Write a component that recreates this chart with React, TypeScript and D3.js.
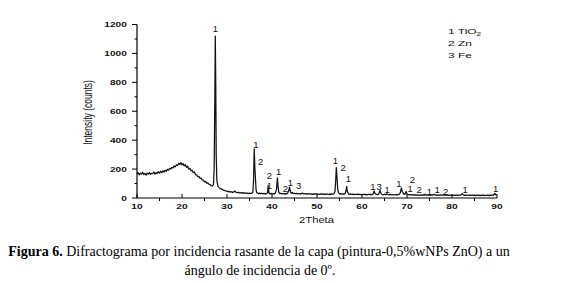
import React from "react";
import * as d3 from "d3";

// 2Theta (deg), intensity (counts)
const spectrum: [number, number][] = [
  [10.0,168],[10.25,175],[10.5,160],[10.75,172],[11.0,165],[11.25,178],[11.5,162],[11.75,170],
  [12.0,158],[12.25,172],[12.5,166],[12.75,176],[13.0,163],[13.25,171],[13.5,168],[13.75,180],
  [14.0,165],[14.25,176],[14.5,170],[14.75,182],[15.0,172],[15.25,185],[15.5,175],[15.75,188],
  [16.0,180],[16.25,192],[16.5,185],[16.75,198],[17.0,192],[17.25,205],[17.5,200],[17.75,212],
  [18.0,208],[18.25,222],[18.5,215],[18.75,230],[19.0,225],[19.25,240],[19.5,232],[19.75,245],
  [20.0,228],[20.25,238],[20.5,222],[20.75,230],[21.0,212],[21.25,220],[21.5,200],[21.75,205],
  [22.0,188],[22.25,192],[22.5,175],[22.75,180],[23.0,162],[23.25,160],[23.5,148],[23.75,150],
  [24.0,135],[24.25,138],[24.5,125],[24.75,122],[25.0,112],[25.25,115],[25.5,102],[25.75,105],
  [26.0,95],[26.25,92],[26.5,85],[26.75,82],[27.0,95],[27.15,200],[27.3,700],[27.4,1120],
  [27.5,800],[27.6,300],[27.75,120],[28.0,80],[28.25,72],[28.5,65],[28.75,62],[29.0,58],
  [29.25,55],[29.5,52],[29.75,48],[30.0,48],[30.25,42],[30.5,46],[30.75,40],[31.0,44],
  [31.25,38],[31.5,42],[31.75,48],[32.0,40],[32.25,36],[32.5,40],[32.75,35],[33.0,38],
  [33.25,33],[33.5,37],[33.75,32],[34.0,36],[34.25,31],[34.5,35],[34.75,30],[35.0,34],
  [35.25,31],[35.5,33],[35.75,40],[35.9,120],[36.05,340],[36.2,200],[36.3,150],[36.45,60],
  [36.6,38],[36.75,35],[37.0,30],[37.25,34],[37.5,29],[37.75,33],[38.0,28],[38.25,32],
  [38.5,27],[38.75,31],[39.0,35],[39.15,85],[39.3,40],[39.5,28],[39.75,32],[40.0,27],
  [40.25,31],[40.5,28],[40.75,35],[41.0,60],[41.2,140],[41.35,80],[41.5,40],[41.75,30],
  [42.0,33],[42.25,28],[42.5,31],[42.75,27],[43.0,30],[43.25,28],[43.5,35],[43.75,55],
  [43.9,75],[44.05,50],[44.25,33],[44.5,38],[44.75,30],[45.0,33],[45.25,29],[45.5,32],
  [45.75,28],[46.0,31],[46.25,27],[46.5,30],[46.75,34],[47.0,28],[47.25,31],[47.5,26],
  [47.75,30],[48.0,27],[48.25,31],[48.5,26],[48.75,29],[49.0,25],[49.25,29],[49.5,26],
  [49.75,30],[50.0,25],[50.25,28],[50.5,24],[50.75,28],[51.0,25],[51.25,29],[51.5,24],
  [51.75,27],[52.0,25],[52.25,28],[52.5,24],[52.75,27],[53.0,25],[53.25,28],[53.5,26],
  [53.75,30],[54.0,45],[54.15,120],[54.3,210],[54.45,140],[54.6,60],[54.8,35],[55.0,28],
  [55.25,30],[55.5,26],[55.75,29],[56.0,27],[56.25,30],[56.45,50],[56.6,80],[56.75,45],
  [57.0,27],[57.25,25],[57.5,28],[57.75,24],[58.0,27],[58.25,23],[58.5,26],[58.75,24],
  [59.0,27],[59.25,23],[59.5,26],[59.75,22],[60.0,25],[60.25,23],[60.5,26],[60.75,22],
  [61.0,25],[61.25,22],[61.5,26],[61.75,23],[62.0,25],[62.25,23],[62.5,30],[62.7,48],
  [62.9,30],[63.25,25],[63.5,23],[63.75,30],[64.0,52],[64.2,32],[64.5,24],[64.75,22],
  [65.0,26],[65.25,22],[65.5,30],[65.75,24],[66.0,22],[66.25,25],[66.5,21],[66.75,24],
  [67.0,21],[67.25,24],[67.5,21],[67.75,23],[68.0,22],[68.25,26],[68.5,35],[68.75,70],
  [68.95,45],[69.15,35],[69.35,25],[69.6,30],[69.8,45],[70.0,28],[70.25,22],[70.5,24],
  [70.75,21],[71.0,23],[71.25,20],[71.5,23],[71.75,20],[72.0,22],[72.25,19],[72.5,22],
  [72.75,19],[73.0,21],[73.25,19],[73.5,22],[73.75,19],[74.0,26],[74.25,20],[74.5,22],
  [74.75,19],[75.0,21],[75.25,19],[75.5,22],[75.75,20],[76.0,27],[76.25,20],[76.5,22],
  [76.75,19],[77.0,22],[77.25,19],[77.5,21],[77.75,19],[78.0,21],[78.25,19],[78.5,22],
  [78.75,19],[79.0,21],[79.25,18],[79.5,21],[79.75,18],[80.0,21],[80.25,18],[80.5,20],
  [80.75,18],[81.0,21],[81.25,18],[81.5,20],[81.75,19],[82.0,22],[82.25,30],[82.5,22],
  [82.75,18],[83.0,20],[83.25,18],[83.5,21],[83.75,18],[84.0,20],[84.25,18],[84.5,21],
  [84.75,18],[85.0,20],[85.25,17],[85.5,20],[85.75,18],[86.0,20],[86.25,17],[86.5,20],
  [86.75,18],[87.0,20],[87.25,17],[87.5,19],[87.75,18],[88.0,20],[88.25,17],[88.5,20],
  [88.75,18],[89.0,21],[89.25,20],[89.5,32],[89.75,22],[90.0,20],
];

// peak annotations: [2Theta, intensity position, label]
const peakLabels: [number, number, string][] = [
  [27.4, 1170, "1"],
  [36.4, 372, "1"], [37.5, 253, "2"],
  [39.4, 157, "2"], [39.4, 84, "1"],
  [41.5, 181, "1"], [43.0, 67, "2"], [44.1, 108, "1"], [45.9, 83, "3"],
  [54.1, 257, "1"], [55.8, 212, "2"], [57.0, 133, "1"],
  [62.4, 78, "1"], [63.8, 78, "3"], [65.6, 55, "1"],
  [68.2, 101, "1"], [71.2, 130, "2"], [70.7, 64, "1"], [72.7, 55, "2"],
  [75.0, 43, "1"], [76.7, 55, "1"], [78.6, 43, "2"],
  [82.9, 60, "1"], [89.7, 67, "1"],
];

const xTicks = [10, 20, 30, 40, 50, 60, 70, 80, 90];
const xMinor = [15, 25, 35, 45, 55, 65, 75, 85];
const yTicks = [0, 200, 400, 600, 800, 1000, 1200];
const yMinor = [100, 300, 500, 700, 900, 1100];

const legendNums = ["1", "2", "3"];
const legendNames = ["TiO", "Zn", "Fe"];
const legendSubs = ["2", "", ""];

const xTitle = "2Theta";
const yTitle = "Intensity (counts)";
const captionBold = "Figura 6.";
const captionRest = " Difractograma por incidencia rasante de la capa (pintura-0,5%wNPs ZnO) a un";
const captionLine2 = "ángulo de incidencia de 0º.";

const SANS = "'Liberation Sans', Arial, sans-serif";
const SERIF = "'Liberation Serif', 'Times New Roman', serif";

function ST({ x, y, size, sx = 1.45, anchor = "start", weight = "normal", children }: any) {
  return (
    <g transform={`translate(${x},${y}) scale(${sx},1)`}>
      <text fontFamily={SANS} fontSize={size} fontWeight={weight} textAnchor={anchor} fill="#111">
        {children}
      </text>
    </g>
  );
}

export default function App() {
  const W = 566, H = 283;
  const x = d3.scaleLinear().domain([10, 90]).range([137, 497]);
  const y = d3.scaleLinear().domain([0, 1200]).range([198, 24.5]);
  const line = d3.line<[number, number]>().x(d => x(d[0])).y(d => y(d[1]));

  return (
    <svg width={W} height={H} style={{ position: "fixed", left: 0, top: 0, background: "#fff" }}>
      <rect width={W} height={H} fill="#fff" />
      {/* data */}
      <path d={line(spectrum) || ""} fill="none" stroke="#111" strokeWidth={1.25} strokeLinejoin="round" />
      {/* axes */}
      <line x1={x(10)} x2={x(90)} y1={y(0)} y2={y(0)} stroke="#000" strokeWidth={1.2} />
      <line x1={x(10)} x2={x(10)} y1={y(0)} y2={y(1200)} stroke="#000" strokeWidth={1.2} />
      {xTicks.map(t => (
        <g key={"xt" + t}>
          <line x1={x(t)} x2={x(t)} y1={y(0)} y2={y(0) - 4} stroke="#000" strokeWidth={1} />
          <ST x={x(t)} y={208.5} size={7} anchor="middle" weight="bold">{t}</ST>
        </g>
      ))}
      {xMinor.map(t => (
        <line key={"xm" + t} x1={x(t)} x2={x(t)} y1={y(0)} y2={y(0) + 3} stroke="#000" strokeWidth={1} />
      ))}
      {yTicks.map(t => (
        <g key={"yt" + t}>
          <line x1={x(10)} x2={x(10) - 5} y1={y(t)} y2={y(t)} stroke="#000" strokeWidth={1} />
          <ST x={126.8} y={y(t) + 2.6} size={7} anchor="end" weight="bold">{t}</ST>
        </g>
      ))}
      {yMinor.map(t => (
        <line key={"ym" + t} x1={x(10)} x2={x(10) - 2.5} y1={y(t)} y2={y(t)} stroke="#000" strokeWidth={1} />
      ))}
      {/* axis titles */}
      <ST x={316.5} y={223} size={9} sx={1.25} anchor="middle">{xTitle}</ST>
      <g transform={`translate(91.5,112.5) scale(1.45,1) rotate(-90)`}>
        <text fontFamily={SANS} fontSize={8.5} textAnchor="middle" fill="#111">{yTitle}</text>
      </g>
      {/* peak labels */}
      {peakLabels.map(([t, v, s], i) => (
        <text key={"pl" + i} x={x(t)} y={y(v) + 3.4} fontFamily={SANS} fontSize={9.5}
          textAnchor="middle" fill="#111">{s}</text>
      ))}
      {/* legend */}
      {legendNums.map((n, i) => (
        <ST key={"lg" + i} x={448} y={33.8 + i * 12} size={8} sx={1.5}>
          {n + " " + legendNames[i]}
          {legendSubs[i] ? <tspan fontSize={5.5} dy={2}>{legendSubs[i]}</tspan> : null}
        </ST>
      ))}
      {/* caption */}
      <text x={259} y={256} fontFamily={SERIF} fontSize={14} textAnchor="middle" fill="#000">
        <tspan fontWeight="bold">{captionBold}</tspan>
        <tspan>{captionRest}</tspan>
      </text>
      <text x={260} y={274.5} fontFamily={SERIF} fontSize={14} textAnchor="middle" fill="#000">
        {captionLine2}
      </text>
    </svg>
  );
}
